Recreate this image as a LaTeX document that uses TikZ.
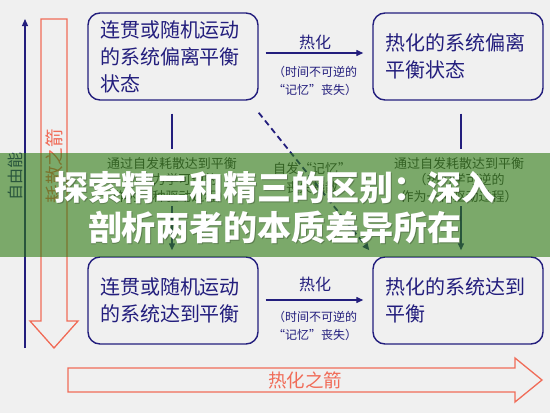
\documentclass[tikz,border=0pt]{standalone}
\usepackage{fontspec}
\newfontfamily\cjk{Noto Sans CJK SC}
\usetikzlibrary{arrows.meta,calc}
\definecolor{navy}{RGB}{35,30,125}
\definecolor{redc}{RGB}{240,108,88}
\definecolor{bgc}{RGB}{240,240,240}
\definecolor{midgray}{RGB}{60,60,60}
\definecolor{bandc}{RGB}{45,122,18}
\tikzset{
  box/.style={draw=navy, line width=1.4pt, rounded corners=12pt, minimum width=170pt,
    minimum height=87pt, text width=146pt, align=left, inner xsep=12pt, inner ysep=0pt,
    text=navy, font=\cjk\fontsize{20}{27}\selectfont},
  lab/.style={text=navy, inner sep=0pt, font=\cjk\fontsize{16}{18}\selectfont},
  note/.style={text=navy, inner sep=0pt, align=center, font=\cjk\fontsize{12}{18}\selectfont},
  midtext/.style={text=midgray, inner sep=0pt, align=center, font=\cjk\fontsize{13}{16.5}\selectfont},
  conn/.style={draw=navy, line width=1.3pt},
  tip/.style={-{Triangle[length=7pt,width=6pt]}},
  hollow/.style={draw=redc, line width=1.3pt, fill=bgc},
  arrowlab/.style={text=redc, inner sep=0pt, font=\cjk\fontsize{18.5}{20}\selectfont},
  bigtext/.style={text=white, inner sep=0pt, align=center, font=\cjk\bfseries\fontsize{34}{40}\selectfont}
}
\begin{document}
\begin{tikzpicture}[x=1pt,y=-1pt]
\fill[bgc] (0,0) rectangle (550,413);
\useasboundingbox (0,0) rectangle (550,413);

% free energy axis
\coordinate (feB) at (25,348);
\coordinate (feT) at (19,19);
\draw[conn, tip] (feB) -- (25,19);
\node[text=navy, rotate=90, inner sep=0pt, font=\cjk\fontsize{16}{18}\selectfont] (fe) at (15,176) {自由能};

% dissipation arrow (hollow, downward)
\draw[hollow] (41,19) -- (67,19) -- (67,321) -- (78,321) -- (54,348) -- (30,321) -- (41,321) -- cycle;
\node[arrowlab, rotate=90] (dis) at (54,166) {耗散之箭};

% thermalisation arrow (hollow, rightward)
\draw[hollow] (68,368) -- (515,368) -- (515,358) -- (542,380) -- (515,402) -- (515,392) -- (68,392) -- cycle;
\node[arrowlab] (therm) at (305,380) {热化之箭};

% boxes
\node[box] (tl) at (173,56.5) {连贯或随机运动\\的系统偏离平衡\\状态};
\node[box] (tr) at (458,56.5) {热化的系统偏离\\平衡状态};
\node[box] (bl) at (173,300.5) {连贯或随机运动\\的系统达到平衡};
\node[box] (br) at (458,300.5) {热化的系统达到\\平衡};

% horizontal arrows
\draw[conn, tip] ($(tl.east)+(7,-3.5)$) -- ($(tr.west)+(-9,-3.5)$);
\node[lab] (hT) at (315,42) {热化};
\node[note] (nT) at (315,81) {（时间不可逆的\\“记忆”丧失）};
\draw[conn, tip] ($(bl.east)+(7,-0.5)$) -- ($(br.west)+(-9,-0.5)$);
\node[lab] (hB) at (315,284) {热化};
\node[note] (nB) at (315,326) {（时间不可逆的\\“记忆”丧失）};

% middle texts
\node[midtext] (mL) at (172,180) {通过自发耗散达到平衡\\（热力学可逆的\\作为一种驱动过程）};
\node[midtext] (mR) at (459,180) {通过自发耗散达到平衡\\（热力学可逆的\\作为一种驱动过程）};
\node[midtext, align=center, font=\cjk\fontsize{13}{19}\selectfont] (mM) at (312,178) {自发“记忆”\\丧失耗散};

% vertical connectors
\draw[conn] ($(tl.south)+(-1,13)$) -- ($(tl.south)+(-1,48)$);
\draw[conn, tip] ($(bl.north)+(-1,-50)$) -- ($(bl.north)+(-1,-6)$);
\draw[conn] ($(tr.south)+(3,13)$) -- ($(tr.south)+(3,48)$);
\draw[conn, tip] ($(br.north)+(3,-50)$) -- ($(br.north)+(3,-6)$);

% dashed diagonal
\coordinate (dA) at ($(tl.south east)+(0,12)$);
\coordinate (dB) at ($(br.north west)+(-3,-6)$);
\draw[draw=navy, line width=1.8pt, dash pattern=on 6pt off 4pt, tip] (dA) -- (dB);

% green banner
\fill[bandc, opacity=0.6] (0,153) rectangle (550,257);
\node[bigtext, text=black, opacity=0.25] (bigS) at (276,209) {探索精二和精三的区别：深入\\剖析两者的本质差异所在};
\node[bigtext] (big) at (275,208) {探索精二和精三的区别：深入\\剖析两者的本质差异所在};
\end{tikzpicture}
\end{document}
